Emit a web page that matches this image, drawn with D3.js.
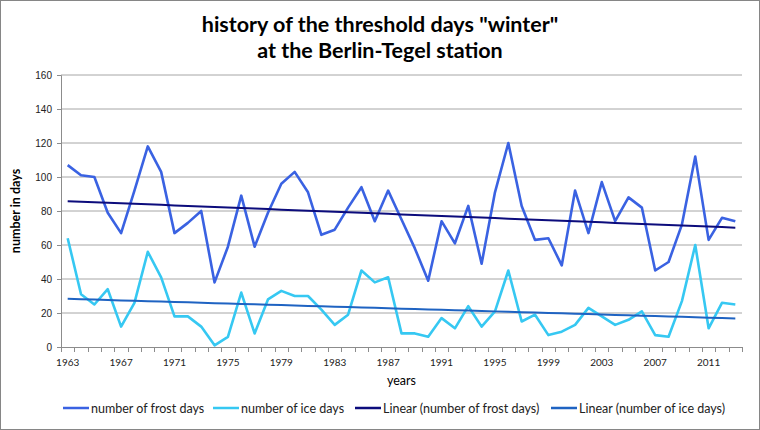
<!DOCTYPE html>
<html>
<head>
<meta charset="utf-8">
<script src="https://cdn.jsdelivr.net/npm/d3@7"></script>
<style>
body{margin:0;background:#fff;}
svg{font-family:Lato,"Open Sans",sans-serif;}
.grid line{stroke:#a6a6a6;}
.axis path,.axis line{stroke:#8c8c8c;}
.axis text{font-size:10px;fill:#222;}
</style>
</head>
<body>
<svg id="chart"></svg>
<script>
var years = d3.range(1963, 2014)
var frostDays = [107,101,100,79,67,92,118,103,67,73,80,38,59,89,59,79,96,103,
    91,66,69,82,94,74,92,75,58,39,74,61,83,49,91,120,83,63,64,48,92,67,97,74,88,82,45,50,72,112,63,76,74]
var iceDays = [64,31,25,34,12,26,56,41,18,18,12,1,6,32,8,28,33,30,
    30,22,13,19,45,38,41,8,8,6,17,11,24,12,21,45,15,19,7,9,13,23,18,13,16,21,7,6,27,60,11,26,25]
var yTicks = [0,20,40,60,80,100,120,140,160]
var xTickYears = d3.range(1963, 2014, 4)
var seriesNames = ["number of frost days","number of ice days","Linear (number of frost days)","Linear (number of ice days)"]
var seriesColors = ["#3a62e2","#36c8f2","#0c0c7c","#1f63c2"]

var W = 760, H = 430,
    margin = {top: 75, right: 18, bottom: 83, left: 61},
    width = W - margin.left - margin.right,
    height = H - margin.top - margin.bottom

var svg = d3.select("#chart").attr("width", W).attr("height", H)
svg.append("rect").attr("x",0.5).attr("y",0.5).attr("width",W-1).attr("height",H-1)
    .attr("fill","#fff").attr("stroke","#868686")

// linear trend (least squares), like excel's trendline
function trend(vals){
    var n = vals.length, xs = d3.range(n),
        mx = d3.mean(xs), my = d3.mean(vals),
        b = d3.sum(xs, (x,i)=>(x-mx)*(vals[i]-my)) / d3.sum(xs, x=>(x-mx)*(x-mx)),
        a = my - b*mx
    return xs.map(x=>a+b*x)
}

var xScale = d3.scaleBand().domain(years).range([0, width]),
    yScale = d3.scaleLinear().domain([0,160]).range([height,0])

var g = svg.append("g").attr("transform","translate("+margin.left+","+margin.top+")")

g.append("g").attr("class","grid")
    .selectAll("line").data(yTicks.filter(d=>d>0)).enter().append("line")
    .attr("x1",0).attr("x2",width)
    .attr("y1",d=>yScale(d)).attr("y2",d=>yScale(d))

var yAxis = d3.axisLeft(yScale).tickValues(yTicks).tickSize(4).tickPadding(5)
g.append("g").attr("class","axis").call(yAxis)

// x axis : ticks on every category boundary, labels every 4 years
var xAxisG = g.append("g").attr("class","axis").attr("transform","translate(0,"+height+")")
xAxisG.append("line").attr("x1",0).attr("x2",width).attr("y1",0.5).attr("y2",0.5)
xAxisG.selectAll(".tk").data(years.concat([2014])).enter().append("line")
    .attr("class","tk")
    .attr("x1",(d,i)=>Math.round(i*xScale.step())+0.5).attr("x2",(d,i)=>Math.round(i*xScale.step())+0.5)
    .attr("y1",0).attr("y2",5)
xAxisG.selectAll("text").data(xTickYears).enter().append("text")
    .attr("x",d=>xScale(d)+xScale.bandwidth()/2).attr("y",19)
    .attr("text-anchor","middle").text(d=>d)

var line = d3.line().x((d,i)=>xScale(years[i])+xScale.bandwidth()/2).y(d=>yScale(d))
var allSeries = [frostDays, iceDays, trend(frostDays), trend(iceDays)]
var widths = [2.6,2.6,2,2]
// excel draws the trendlines on top of the data
;[0,1,2,3].forEach(function(k){
    g.append("path").datum(allSeries[k])
        .attr("fill","none").attr("stroke",seriesColors[k])
        .attr("stroke-width",widths[k]).attr("stroke-linejoin","round")
        .attr("d",line)
})

// titles
svg.append("text").attr("x",380).attr("y",32).attr("text-anchor","middle")
    .style("font-size","21.5px").style("font-weight","bold").text('history of the threshold days "winter"')
svg.append("text").attr("x",380).attr("y",58).attr("text-anchor","middle")
    .style("font-size","21.5px").style("font-weight","bold").text("at the Berlin-Tegel station")
svg.append("text").attr("transform","translate(20,"+(margin.top+height/2)+") rotate(-90)")
    .attr("text-anchor","middle").style("font-size","12.5px").style("font-weight","bold")
    .text("number in days")
svg.append("text").attr("x",margin.left+width/2).attr("y",385).attr("text-anchor","middle")
    .style("font-size","12.5px").text("years")

// legend
var legX = [63,213,355,551]
var leg = svg.append("g").attr("transform","translate(0,408)")
seriesNames.forEach(function(name,k){
    leg.append("line").attr("x1",legX[k]).attr("x2",legX[k]+26).attr("y1",0).attr("y2",0)
        .attr("stroke",seriesColors[k]).attr("stroke-width",2.5)
    leg.append("text").attr("x",legX[k]+28).attr("y",4.5).style("font-size","12.5px").attr("fill","#222").text(name)
})
</script>
</body>
</html>
